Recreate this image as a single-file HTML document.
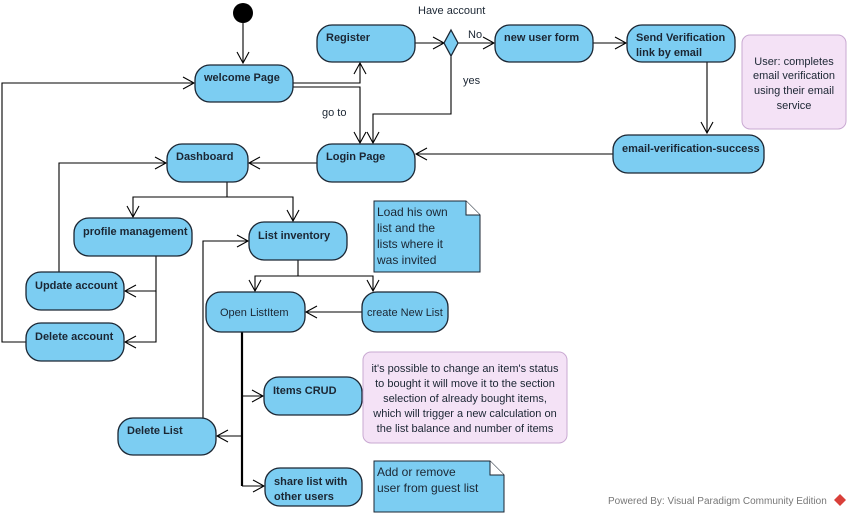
<!DOCTYPE html>
<html><head><meta charset="utf-8"><style>
html,body{margin:0;padding:0;background:#fff;}
svg{display:block;font-family:"Liberation Sans",sans-serif;}
.n{fill:#7ccdf2;stroke:#1b2633;stroke-width:1.3;}
.b{font-weight:bold;font-size:11px;fill:#1b2633;}
.t{font-size:11px;fill:#1b2633;}
.l{stroke:#000;stroke-width:1.1;fill:none;}
</style></head><body>
<svg width="852" height="517" viewBox="0 0 852 517" xmlns="http://www.w3.org/2000/svg">
<defs>
<marker id="a" markerUnits="userSpaceOnUse" markerWidth="14" markerHeight="14" refX="12" refY="7" orient="auto">
<path d="M1,1 L12,7 L1,13" fill="none" stroke="#000" stroke-width="1.1"/>
</marker>
</defs>
<circle cx="243" cy="13" r="10" fill="#000"/>
<!-- connectors -->
<path class="l" d="M243,23 V63" marker-end="url(#a)"/>
<path class="l" d="M293,83 H360 V63" marker-end="url(#a)"/>
<path class="l" d="M293,87 H360 V143" marker-end="url(#a)"/>
<path class="l" d="M415,43 H444" marker-end="url(#a)"/>
<path class="l" d="M458,43 H494" marker-end="url(#a)"/>
<path class="l" d="M451,56 V114 H373 V143" marker-end="url(#a)"/>
<path class="l" d="M593,43 H626" marker-end="url(#a)"/>
<path class="l" d="M707,62 V133" marker-end="url(#a)"/>
<path class="l" d="M613,154 H416" marker-end="url(#a)"/>
<path class="l" d="M317,163 H249" marker-end="url(#a)"/>
<path class="l" d="M227,182 V197 H133 V217" marker-end="url(#a)"/>
<path class="l" d="M227,197 H293 V221" marker-end="url(#a)"/>
<path class="l" d="M156,256 V291 H125" marker-end="url(#a)"/>
<path class="l" d="M156,291 V342 H125" marker-end="url(#a)"/>
<path class="l" d="M59,272 V163 H166" marker-end="url(#a)"/>
<path class="l" d="M26,342 H2 V83 H194" marker-end="url(#a)"/>
<path class="l" d="M298,260 V276 H255 V291" marker-end="url(#a)"/>
<path class="l" d="M298,276 H373 V291" marker-end="url(#a)"/>
<path class="l" d="M362,312 H306" marker-end="url(#a)"/>
<path d="M242,332 V486" stroke="#000" stroke-width="2.2" fill="none"/>
<path class="l" d="M242,396 H263" marker-end="url(#a)"/>
<path class="l" d="M242,436 H217" marker-end="url(#a)"/>
<path class="l" d="M242,486 H264" marker-end="url(#a)"/>
<path class="l" d="M203,418 V241 H248" marker-end="url(#a)"/>
<!-- diamond -->
<path d="M451,30 L458,43 L451,56 L444,43 Z" class="n"/>
<!-- nodes -->
<rect class="n" x="195" y="65" width="98" height="37" rx="15"/><text class="b" x="204" y="81">welcome Page</text>
<rect class="n" x="317" y="25" width="98" height="37" rx="15"/><text class="b" x="326" y="41">Register</text>
<rect class="n" x="495" y="25" width="98" height="37" rx="15"/><text class="b" x="504" y="41">new user form</text>
<rect class="n" x="627" y="25" width="108" height="37" rx="15"/><text class="b" x="636" y="41">Send Verification</text><text class="b" x="636" y="56">link by email</text>
<rect class="n" x="613" y="135" width="151" height="38" rx="15"/><text class="b" x="622" y="152">email-verification-success</text>
<rect class="n" x="317" y="144" width="98" height="38" rx="15"/><text class="b" x="326" y="160">Login Page</text>
<rect class="n" x="167" y="144" width="81" height="38" rx="15"/><text class="b" x="176" y="160">Dashboard</text>
<rect class="n" x="74" y="218" width="118" height="38" rx="15"/><text class="b" x="83" y="235">profile management</text>
<rect class="n" x="249" y="222" width="98" height="38" rx="15"/><text class="b" x="258" y="239">List inventory</text>
<rect class="n" x="26" y="272" width="98" height="38" rx="15"/><text class="b" x="35" y="289">Update account</text>
<rect class="n" x="26" y="323" width="98" height="38" rx="15"/><text class="b" x="35" y="340">Delete account</text>
<rect class="n" x="206" y="292" width="99" height="40" rx="15"/><text class="t" x="220" y="316">Open ListItem</text>
<rect class="n" x="362" y="292" width="86" height="40" rx="15"/><text class="t" x="367" y="316">create New List</text>
<rect class="n" x="264" y="377" width="98" height="38" rx="15"/><text class="b" x="273" y="394">Items CRUD</text>
<rect class="n" x="118" y="418" width="98" height="37" rx="15"/><text class="b" x="127" y="434">Delete List</text>
<rect class="n" x="265" y="468" width="97" height="38" rx="15"/><text class="b" x="274" y="485">share list with</text><text class="b" x="274" y="500">other users</text>
<!-- notes -->
<rect x="742" y="35" width="104" height="94" rx="8" fill="#f4e2f6" stroke="#c9a9d2" stroke-width="1"/>
<text class="t" text-anchor="middle" x="794" y="65">User: completes</text>
<text class="t" text-anchor="middle" x="794" y="79">email verification</text>
<text class="t" text-anchor="middle" x="794" y="94">using their email</text>
<text class="t" text-anchor="middle" x="794" y="109">service</text>
<path d="M374,201 H466 L480,215 V272 H374 Z" fill="#7ccdf2" stroke="#1b2633" stroke-width="1"/>
<path d="M466,201 V215 H480" fill="#fff" stroke="#1b2633" stroke-width="1"/>
<text class="t" font-size="12" x="377" y="216" style="font-size:12px">Load his own</text>
<text class="t" x="377" y="232" style="font-size:12px">list and the</text>
<text class="t" x="377" y="248" style="font-size:12px">lists where it</text>
<text class="t" x="377" y="264" style="font-size:12px">was invited</text>
<rect x="363" y="352" width="204" height="91" rx="8" fill="#f4e2f6" stroke="#c9a9d2" stroke-width="1"/>
<text class="t" text-anchor="middle" x="465" y="372">it's possible to change an item's status</text>
<text class="t" text-anchor="middle" x="465" y="387">to bought it will move it to the section</text>
<text class="t" text-anchor="middle" x="465" y="402">selection of already bought items,</text>
<text class="t" text-anchor="middle" x="465" y="417">which will trigger a new calculation on</text>
<text class="t" text-anchor="middle" x="465" y="432">the list balance and number of items</text>
<path d="M374,461 H490 L504,475 V512 H374 Z" fill="#7ccdf2" stroke="#1b2633" stroke-width="1"/>
<path d="M490,461 V475 H504" fill="#fff" stroke="#1b2633" stroke-width="1"/>
<text class="t" x="377" y="476" style="font-size:12px">Add or remove</text>
<text class="t" x="377" y="492" style="font-size:12px">user from guest list</text>
<!-- labels -->
<text class="t" x="418" y="14">Have account</text>
<text class="t" x="468" y="38">No</text>
<text class="t" x="463" y="84">yes</text>
<text class="t" x="322" y="116">go to</text>
<text x="608" y="504" style="font-size:10px" fill="#777">Powered By: Visual Paradigm Community Edition</text>
<path d="M840,494 L846,500 L840,506 L834,500 Z" fill="#d9403a"/>
</svg>
</body></html>
